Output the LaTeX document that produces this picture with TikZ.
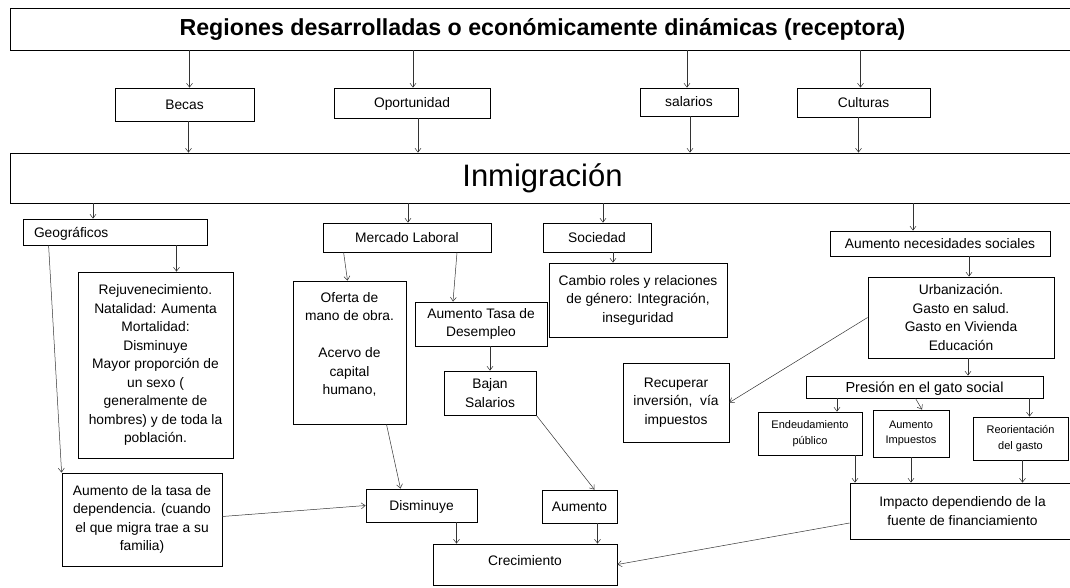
\documentclass[tikz,border=0pt]{standalone}
\usepackage{fontspec}
\setmainfont{Liberation Sans}
\usetikzlibrary{arrows.meta}

\begin{document}
\begin{tikzpicture}[x=1pt,y=-1pt]
\useasboundingbox (0,0) rectangle (1070,588);
\begin{scope}[every node/.style={draw,line width=0.8pt,inner sep=0pt,align=center,
              font=\fontsize{13.8}{18.5}\selectfont},
              uno/.style={text height=10pt,text depth=0pt}]
    \node[minimum width=1065pt,minimum height=42pt,font=\fontsize{23.2}{27}\selectfont\bfseries] (reg) at (542.5,29) {Regiones desarrolladas o económicamente dinámicas (receptora)};
    \node[uno,minimum width=139pt,minimum height=33pt] (becas) at (184.5,104.5) {Becas};
    \node[uno,minimum width=156pt,minimum height=30pt] (oport) at (412,103) {Oportunidad};
    \node[uno,minimum width=98pt,minimum height=28pt] (salar) at (689,102) {salarios};
    \node[uno,minimum width=133pt,minimum height=29pt] (cultu) at (863.5,102.5) {Culturas};
    \node[minimum width=1065pt,minimum height=50pt,font=\fontsize{31}{36}\selectfont] (inmig) at (542.5,178) {Inmigración};
    \node[uno,minimum width=184pt,minimum height=26pt,text width=162pt,align=left,inner xsep=11pt] (geog) at (115,232) {Geográficos};
    \node[uno,minimum width=168pt,minimum height=29pt] (merc) at (407,237.5) {Mercado Laboral};
    \node[uno,minimum width=108pt,minimum height=29pt] (soci) at (597,237.5) {Sociedad};
    \node[uno,minimum width=220pt,minimum height=25pt] (aumnec) at (940,243.5) {Aumento necesidades sociales};
    \node[minimum width=155pt,minimum height=186pt] (rejuv) at (155.5,365) {Rejuvenecimiento.\\Natalidad: Aumenta\\Mortalidad:\\Disminuye\\Mayor proporción de\\un sexo (\\generalmente de\\hombres) y de toda la\\población.};
    \node[minimum width=113pt,minimum height=143pt] (oferta) at (349.5,352.5) {Oferta de\\mano de obra.\\ \\Acervo de\\capital\\humano,\\ };
    \node[minimum width=132pt,minimum height=44pt] (atd) at (481,324) {Aumento Tasa de\\Desempleo};
    \node[minimum width=92pt,minimum height=44pt] (bajan) at (490,393) {Bajan\\Salarios};
    \node[minimum width=178pt,minimum height=74pt] (cambio) at (638,300) {Cambio roles y relaciones\\de género: Integración,\\inseguridad};
    \node[minimum width=186pt,minimum height=81pt] (urb) at (961,317.5) {Urbanización.\\Gasto en salud.\\Gasto en Vivienda\\Educación};
    \node[minimum width=106pt,minimum height=79pt] (recup) at (676,402.5) {Recuperar\\inversión,\ \ vía\\impuestos};
    \node[uno,minimum width=237pt,minimum height=22pt,font=\fontsize{14.5}{18}\selectfont] (presion) at (924.5,387) {Presión en el gato social};
    \node[minimum width=104pt,minimum height=43pt,font=\fontsize{11}{15.5}\selectfont] (endeu) at (810,433.5) {Endeudamiento\\público};
    \node[minimum width=76pt,minimum height=47pt,font=\fontsize{11}{15.5}\selectfont] (aumimp) at (911,433.5) {Aumento\\Impuestos};
    \node[minimum width=95pt,minimum height=43pt,font=\fontsize{11}{15.5}\selectfont] (reori) at (1020.5,438.5) {Reorientación\\del gasto};
    \node[minimum width=160pt,minimum height=93pt] (aumdep) at (142,519.5) {Aumento de la tasa de\\dependencia. (cuando\\el que migra trae a su\\familia)};
    \node[uno,minimum width=111pt,minimum height=33pt] (dismi) at (421.5,505.5) {Disminuye};
    \node[uno,minimum width=75pt,minimum height=33pt] (aumento) at (579.5,506.5) {Aumento};
    \node[minimum width=225pt,minimum height=56pt] (impacto) at (962.5,511) {Impacto dependiendo de la\\fuente de financiamiento};
    \node[minimum width=184pt,minimum height=41pt,text height=10pt,text depth=9pt] (crec) at (525,564.5) {Crecimiento};
\end{scope}

\begin{scope}[>={Straight Barb[length=4pt,width=6pt]},black!80,line width=0.5pt]
    % fila superior
    \draw[->] ([xshift=5pt]becas.north |- reg.south) -- ([xshift=5pt]becas.north);
    \draw[->] ([xshift=1pt]oport.north |- reg.south) -- ([xshift=1pt]oport.north);
    \draw[->] ([xshift=-2pt]salar.north |- reg.south) -- ([xshift=-2pt]salar.north);
    \draw[->] ([xshift=-3pt]cultu.north |- reg.south) -- ([xshift=-3pt]cultu.north);
    \draw[->] ([xshift=4pt]becas.south) -- ([xshift=4pt]becas.south |- inmig.north);
    \draw[->] ([xshift=6pt]oport.south) -- ([xshift=6pt]oport.south |- inmig.north);
    \draw[->] ([xshift=1pt]salar.south) -- ([xshift=1pt]salar.south |- inmig.north);
    \draw[->] ([xshift=-5pt]cultu.south) -- ([xshift=-5pt]cultu.south |- inmig.north);
    % desde inmigracion
    \draw[->] ([xshift=-22pt]geog.north |- inmig.south) -- ([xshift=-22pt]geog.north);
    \draw[->] ([xshift=1pt]merc.north |- inmig.south) -- ([xshift=1pt]merc.north);
    \draw[->] ([xshift=6pt]soci.north |- inmig.south) -- ([xshift=6pt]soci.north);
    \draw[->] ([xshift=-27pt]aumnec.north |- inmig.south) -- ([xshift=-27pt]aumnec.north);
    % izquierda
    \draw[->] ([xshift=21pt]rejuv.north |- geog.south) -- ([xshift=21pt]rejuv.north);
    \draw[->] ([xshift=26pt]geog.south west) -- (aumdep.north west);
    \draw[->] ([xshift=21pt]merc.south west) -- ([xshift=-2pt]oferta.north);
    \draw[->] ([xshift=50pt]merc.south) -- ([xshift=-28pt]atd.north);
    \draw[->] (bajan.north |- atd.south) -- (bajan.north);
    \draw[->] ([xshift=37pt]oferta.south) -- ([xshift=-21pt]dismi.north);
    \draw[->] ([yshift=3pt]aumdep.east) -- (dismi.west);
    \draw[->] (bajan.south east) -- ([xshift=15pt]aumento.north);
    \draw[->] ([xshift=35pt]dismi.south) -- ([xshift=35pt]dismi.south |- crec.north);
    \draw[->] ([xshift=18pt]aumento.south) -- ([xshift=18pt]aumento.south |- crec.north);
    % derecha
    \draw[->] ([xshift=16pt]soci.south) -- ([xshift=16pt]soci.south |- cambio.north);
    \draw[->] ([xshift=8pt]urb.north |- aumnec.south) -- ([xshift=8pt]urb.north);
    \draw[->] (urb.west) -- (recup.east);
    \draw[->] ([xshift=7pt]urb.south) -- ([xshift=7pt]urb.south |- presion.north);
    \draw[->] ([xshift=27pt]endeu.north |- presion.south) -- ([xshift=27pt]endeu.north);
    \draw[->] ([xshift=-9pt]presion.south) -- ([xshift=11pt]aumimp.north);
    \draw[->] ([xshift=9pt]reori.north |- presion.south) -- ([xshift=9pt]reori.north);
    \draw[->] ([xshift=45pt]endeu.south) -- ([xshift=45pt]endeu.south |- impacto.north);
    \draw[->] (aumimp.south) -- (aumimp.south |- impacto.north);
    \draw[->] ([xshift=2pt]reori.south) -- ([xshift=2pt]reori.south |- impacto.north);
    \draw[->] ([yshift=-12pt]impacto.west) -- (crec.east);
\end{scope}
\end{tikzpicture}
\end{document}
